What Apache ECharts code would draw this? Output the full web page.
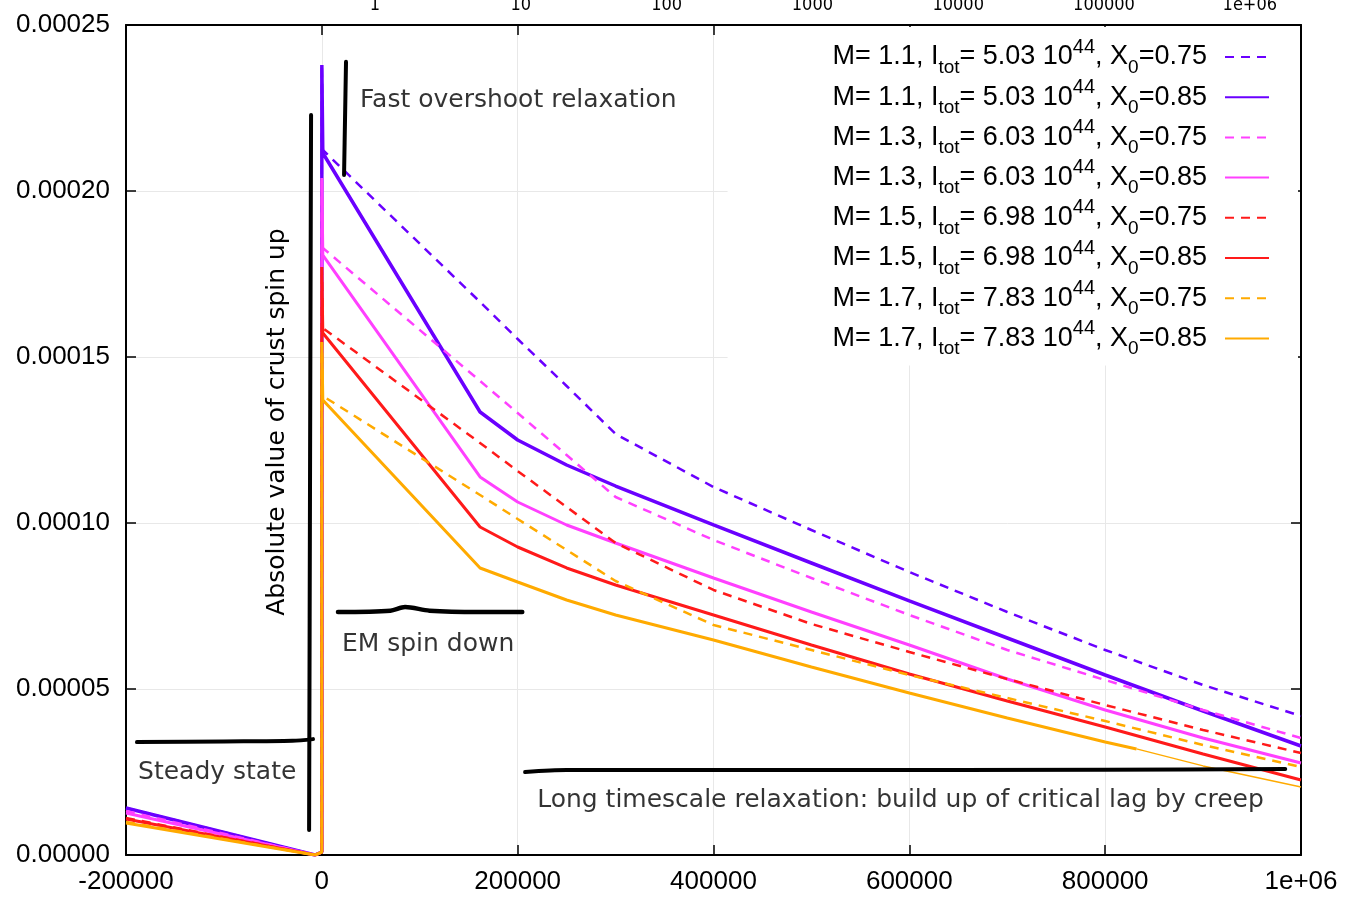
<!DOCTYPE html>
<html><head><meta charset="utf-8">
<script src="https://cdn.jsdelivr.net/npm/echarts@6/dist/echarts.min.js"></script>
<style>html,body{margin:0;padding:0;background:#fff}#c{width:1346px;height:898px}</style>
</head><body><div id="c"></div>
<script>
// time grid (s): steady state, zero, glitch peak, start of relaxation, knees, long relaxation
const time = [-200000, -7000, 0, 0, 1000, 161600, 200000, 250000, 300000, 400000, 500000, 600000, 700000, 800000, 900000, 1000000];
const blue75 = [1.416e-5, 0, 0.09e-5, 23.795e-5, 21.235e-5, 16.657e-5, 15.542e-5, 14.127e-5, 12.681e-5, 11.084e-5, 9.789e-5, 8.524e-5, 7.319e-5, 6.175e-5, 5.120e-5, 4.187e-5];
const blue85 = [1.416e-5, 0, 0.09e-5, 23.795e-5, 21.145e-5, 13.343e-5, 12.500e-5, 11.747e-5, 11.114e-5, 9.940e-5, 8.795e-5, 7.651e-5, 6.536e-5, 5.422e-5, 4.337e-5, 3.283e-5];
const mag75 = [1.325e-5, 0, 0.09e-5, 20.392e-5, 18.283e-5, 14.277e-5, 13.313e-5, 12.048e-5, 10.783e-5, 9.488e-5, 8.343e-5, 7.229e-5, 6.175e-5, 5.271e-5, 4.367e-5, 3.524e-5];
const mag85 = [1.265e-5, 0, 0.09e-5, 20.392e-5, 18.072e-5, 11.386e-5, 10.633e-5, 9.940e-5, 9.398e-5, 8.343e-5, 7.319e-5, 6.325e-5, 5.301e-5, 4.367e-5, 3.524e-5, 2.771e-5];
const red75 = [1.114e-5, 0, 0.09e-5, 17.711e-5, 15.873e-5, 12.410e-5, 11.566e-5, 10.482e-5, 9.398e-5, 7.982e-5, 6.958e-5, 6.114e-5, 5.301e-5, 4.518e-5, 3.765e-5, 3.072e-5];
const red85 = [1.084e-5, 0, 0.09e-5, 17.711e-5, 15.723e-5, 9.880e-5, 9.277e-5, 8.645e-5, 8.133e-5, 7.229e-5, 6.325e-5, 5.452e-5, 4.639e-5, 3.855e-5, 3.042e-5, 2.259e-5];
const ora75 = [0.994e-5, 0, 0.09e-5, 15.452e-5, 13.825e-5, 10.843e-5, 10.120e-5, 9.187e-5, 8.253e-5, 6.928e-5, 6.175e-5, 5.422e-5, 4.729e-5, 4.036e-5, 3.313e-5, 2.651e-5];
const ora85 = [0.964e-5, 0, 0.09e-5, 15.452e-5, 13.705e-5, 8.645e-5, 8.223e-5, 7.681e-5, 7.229e-5, 6.476e-5, 5.663e-5, 4.880e-5, 4.127e-5, 3.404e-5];
const oraTailTime = [832000, 900000, 1000000];
const oraTailVal = [3.193e-5, 2.681e-5, 2.048e-5];

const masses = ['1.1', '1.1', '1.3', '1.3', '1.5', '1.5', '1.7', '1.7'];
const itot = ['5.03', '5.03', '6.03', '6.03', '6.98', '6.98', '7.83', '7.83'];
const x0 = ['0.75', '0.85', '0.75', '0.85', '0.75', '0.85', '0.75', '0.85'];
const seriesValues = [blue75, blue85, mag75, mag85, red75, red85, ora75, ora85];

// x-axis tick labels (top, log decades)
const topTickLabels = ['1', '10', '100', '1000', '10000', '100000', '1e+06'];

// annotation strokes (data coordinates)
const strokeSpikeT = [-11000, -12000, -13000];
const strokeSpikeV = [22.29e-5, 12e-5, 0.75e-5];
const strokeFastT = [24700, 23700, 22700];
const strokeFastV = [23.89e-5, 22.2e-5, 20.48e-5];
const strokeSteadyT = [-188800, -100000, -30000, -9000];
const strokeSteadyV = [3.40e-5, 3.42e-5, 3.44e-5, 3.49e-5];
const strokeEMT = [16500, 70000, 85000, 110000, 160000, 204700];
const strokeEMV = [7.32e-5, 7.36e-5, 7.47e-5, 7.36e-5, 7.32e-5, 7.32e-5];
const strokeLongT = [207600, 250000, 500000, 800000, 983900];
const strokeLongV = [2.50e-5, 2.56e-5, 2.56e-5, 2.57e-5, 2.59e-5];

const annoText = ['Fast overshoot relaxation', 'Steady state', 'EM spin down', 'Long timescale relaxation: build up of critical lag by creep'];
const annoT = [39000, -187700, 20500, 219900];
const annoV = [22.74e-5, 2.50e-5, 6.33e-5, 1.63e-5];

const colors = ['#6a00ff', '#6a00ff', '#ff40ff', '#ff40ff', '#ff1a1a', '#ff1a1a', '#ffaa00', '#ffaa00'];

const names = masses.map((m, i) => 'M= ' + m + ', Itot= ' + itot[i] + ' 10^44, X0=' + x0[i]);
const richNames = {};
masses.forEach((m, i) => {
  richNames[names[i]] = '{b|M= ' + m + ', I}{sub|tot}{b|= ' + itot[i] + ' 10}{sup|44}{b|, X}{sub|0}{b|=' + x0[i] + '}{g| }';
});

const zip = (a, b) => a.map((v, i) => [v, b[i]]);

const series = [];
seriesValues.forEach((vals, i) => {
  const dashed = x0[i] === '0.75';
  let data = zip(time.slice(0, vals.length), vals);
  if (i === 7) data.push([oraTailTime[0], oraTailVal[0]]);
  series.push({
    name: names[i], type: 'line', data: data, symbol: 'none', animation: false,
    lineStyle: { color: colors[i], width: dashed ? 2.5 : (i === 1 ? 3.5 : 3), type: dashed ? [9, 7] : 'solid' },
    itemStyle: { color: colors[i] }
  });
});
series.push({
  name: 'tail', type: 'line', data: zip(oraTailTime, oraTailVal), symbol: 'none', animation: false,
  lineStyle: { color: '#ffaa00', width: 1.3 }
});
[[strokeSpikeT, strokeSpikeV, 4], [strokeFastT, strokeFastV, 4], [strokeSteadyT, strokeSteadyV, 4],
 [strokeEMT, strokeEMV, 4.5], [strokeLongT, strokeLongV, 4]].forEach((s, k) => {
  series.push({
    name: 'stroke' + k, type: 'line', data: zip(s[0], s[1]), symbol: 'none', animation: false, silent: true,
    smooth: 0.3, lineStyle: { color: '#000', width: s[2], cap: 'round', join: 'round' }
  });
});
series.push({
  name: 'annotations', type: 'scatter', symbolSize: 0, animation: false, silent: true,
  data: annoText.map((t, i) => ({ name: t, value: [annoT[i], annoV[i]] })),
  label: { show: true, position: 'right', distance: 0, formatter: '{b}', color: '#000',
           fontFamily: 'DejaVu Sans', fontSize: 25 }
});

const axisFont = { fontFamily: 'Liberation Sans', fontSize: 26, color: '#000' };
const gridLine = { show: true, lineStyle: { color: '#e8e8e8', width: 1 } };
const frame = { show: true, onZero: false, lineStyle: { color: '#000', width: 2 } };
const ticks = { show: true, inside: true, length: 10, lineStyle: { color: '#000', width: 1.5 } };

const chart = echarts.init(document.getElementById('c'), null, { renderer: 'canvas' });
chart.setOption({
  animation: false,
  backgroundColor: '#fff',
  grid: { left: 126, right: 45, top: 25, bottom: 43, containLabel: false, outerBoundsMode: 'none' },
  xAxis: [
    { type: 'value', position: 'bottom', min: -200000, max: 1000000, interval: 200000,
      axisLine: frame, axisTick: ticks, splitLine: gridLine,
      axisLabel: Object.assign({ margin: 14, formatter: v => v === 1000000 ? '1e+06' : String(v) }, axisFont) },
    { type: 'value', position: 'top', min: -200000, max: 1000000, interval: 200000,
      axisLine: frame, axisTick: ticks, splitLine: { show: false }, axisLabel: { show: false } },
    { type: 'value', position: 'top', min: -1.7078, max: 6.351,
      axisLine: { show: false }, axisTick: { show: false }, splitLine: { show: false },
      axisLabel: { show: true, customValues: [0, 1, 2, 3, 4, 5, 6], margin: 11,
        formatter: v => topTickLabels[Math.round(v)],
        fontFamily: 'DejaVu Sans Condensed', fontSize: 18, color: '#000' } }
  ],
  yAxis: [
    { type: 'value', position: 'left', min: 0, max: 0.00025, interval: 0.00005,
      axisLine: frame, axisTick: ticks, splitLine: gridLine,
      axisLabel: Object.assign({ margin: 16, padding: [0, 0, 6, 0], formatter: v => v.toFixed(5) }, axisFont) },
    { type: 'value', position: 'right', min: 0, max: 0.00025, interval: 0.00005,
      axisLine: frame, axisTick: ticks, splitLine: { show: false }, axisLabel: { show: false } }
  ],
  legend: {
    data: names, orient: 'vertical', right: 48, top: 27, align: 'right',
    itemWidth: 44, itemHeight: 14, itemGap: 0.2, selectedMode: false,
    padding: [10, 28, 7, 105], backgroundColor: '#fff',
    itemStyle: { opacity: 0 },
    formatter: n => richNames[n],
    textStyle: {
      color: '#000', fontFamily: 'Liberation Sans', fontSize: 27, lineHeight: 40,
      rich: {
        b: { fontFamily: 'Liberation Sans', fontSize: 27, lineHeight: 40, color: '#000' },
        sub: { fontFamily: 'Liberation Sans', fontSize: 19, lineHeight: 18, verticalAlign: 'bottom', color: '#000' },
        sup: { fontFamily: 'Liberation Sans', fontSize: 20, lineHeight: 21, verticalAlign: 'top', color: '#000' },
        g: { width: 13, fontSize: 25, lineHeight: 40 }
      }
    }
  },
  graphic: [{
    type: 'text', x: 277, y: 422, rotation: Math.PI / 2, z: 100,
    style: { text: 'Absolute value of crust spin up', fontFamily: 'DejaVu Sans', fontSize: 25,
             fill: '#000', align: 'center', verticalAlign: 'middle' }
  }],
  series: series
});
</script>
</body></html>
